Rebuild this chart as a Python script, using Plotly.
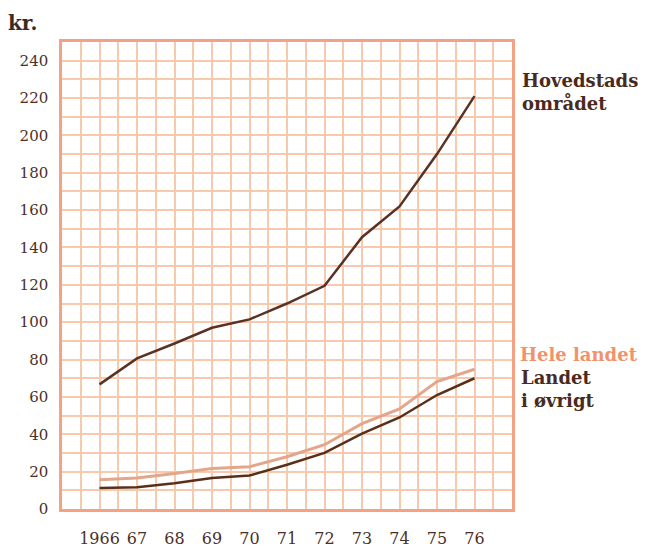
import plotly.graph_objects as go

years = [1966, 1967, 1968, 1969, 1970, 1971, 1972, 1973, 1974, 1975, 1976]
hovedstad = [66.7, 80.6, 88.6, 97, 101.5, 110, 119.5, 145.5, 162, 190, 221]
hele_landet = [15.6, 16.6, 19, 21.7, 22.6, 28, 34.4, 45.7, 53.6, 68.2, 74.8]
landet_ovrigt = [11.2, 11.7, 13.8, 16.6, 17.9, 23.7, 30, 40.3, 49, 61, 70]

x_tickvals = years
x_ticktext = ["1966", "67", "68", "69", "70", "71", "72", "73", "74", "75", "76"]
y_tickvals = [0, 20, 40, 60, 80, 100, 120, 140, 160, 180, 200, 220, 240]

grid_col = "#f7c9ad"
border_col = "#f4a283"
text_col = "#4a3028"
serif = "DejaVu Serif, Liberation Serif, serif"

fig = go.Figure()
fig.add_trace(go.Scatter(x=years, y=hele_landet, mode="lines",
                         line=dict(color="#e3a68a", width=3), name="Hele landet"))
fig.add_trace(go.Scatter(x=years, y=landet_ovrigt, mode="lines",
                         line=dict(color="#5a2e18", width=2.5), name="Landet i øvrigt"))
fig.add_trace(go.Scatter(x=years, y=hovedstad, mode="lines",
                         line=dict(color="#5a3224", width=2.5), name="Hovedstadsområdet"))

fig.update_layout(
    width=648, height=552,
    margin=dict(l=51, r=144, t=34, b=34),
    paper_bgcolor="white", plot_bgcolor="white",
    showlegend=False,
    font=dict(family=serif, color=text_col, size=15),
    xaxis=dict(range=[1965, 1977], tickvals=x_tickvals, ticktext=x_ticktext,
               showgrid=True, gridcolor=grid_col, gridwidth=1.5,
               minor=dict(dtick=0.5, tick0=1965, showgrid=True, gridcolor=grid_col, gridwidth=1.5),
               showline=True, linecolor=border_col, linewidth=2.5, mirror=True,
               zeroline=False, ticks="", ticklabelstandoff=13,
               tickfont=dict(family=serif, size=16, color=text_col)),
    yaxis=dict(range=[0, 250], tickvals=y_tickvals,
               showgrid=True, gridcolor=grid_col, gridwidth=1.5,
               minor=dict(dtick=10, tick0=0, showgrid=True, gridcolor=grid_col, gridwidth=1.5),
               showline=True, linecolor=border_col, linewidth=2.5, mirror=True,
               zeroline=False, ticks="", ticklabelstandoff=8,
               tickfont=dict(family=serif, size=15, color=text_col)),
)

ann_font = dict(family=serif, size=18, color="#4a2a20")
fig.add_annotation(text="<b>kr.</b>", xref="paper", yref="paper", x=-0.125, y=1.01,
                   xanchor="left", yanchor="bottom", showarrow=False,
                   font=dict(family=serif, size=20, color="#3e2a22"))
fig.add_annotation(text="<b>Hovedstads<br>området</b>", xref="paper", yref="y",
                   x=1.017, y=223, xanchor="left", yanchor="middle", showarrow=False,
                   align="left", font=ann_font)
fig.add_annotation(text="<b>Hele landet</b>", xref="paper", yref="y",
                   x=1.013, y=82.5, xanchor="left", yanchor="middle", showarrow=False,
                   align="left", font=dict(family=serif, size=18, color="#f0936c"))
fig.add_annotation(text="<b>Landet<br>i øvrigt</b>", xref="paper", yref="y",
                   x=1.015, y=64.3, xanchor="left", yanchor="middle", showarrow=False,
                   align="left", font=ann_font)

fig.write_html("out.html")
